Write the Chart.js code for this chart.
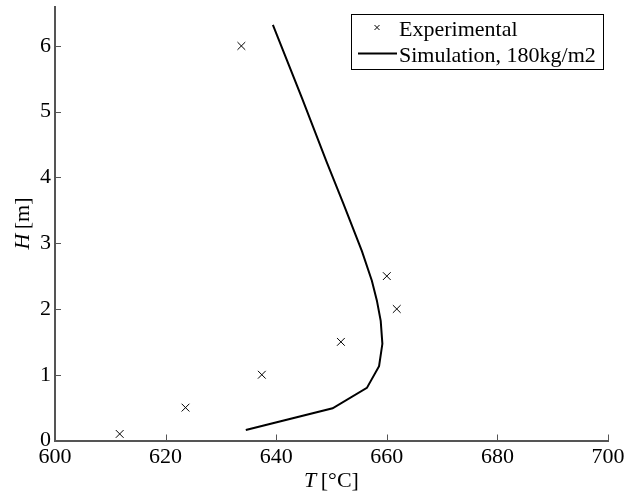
<!DOCTYPE html>
<html>
<head>
<meta charset="utf-8">
<script src="https://cdn.jsdelivr.net/npm/chart.js@4/dist/chart.umd.min.js"></script>
<style>
  html, body { margin: 0; padding: 0; background: #fff; }
  #wrap { width: 626px; height: 496px; }
</style>
</head>
<body>
<div id="wrap"><canvas id="myChart" width="626" height="496"></canvas></div>
<script>
// experimental measurements
var expT = [611.7, 623.6, 637.4, 651.7, 661.8, 660.0, 633.7];
var expH = [0.1, 0.5, 1.0, 1.5, 2.0, 2.5, 6.0];

// simulation profile, 180kg/m2
var simT = [634.5, 650.2, 656.4, 658.6, 659.2, 658.9, 658.2, 657.3, 655.5, 652.2, 649.1, 644.7, 639.4];
var simH = [0.16, 0.49, 0.80, 1.13, 1.47, 1.82, 2.13, 2.43, 2.88, 3.59, 4.24, 5.2, 6.32];

var xTicks = [600, 620, 640, 660, 680, 700];
var yTicks = [0, 1, 2, 3, 4, 5, 6];

var serif = '"Liberation Serif", "Times New Roman", serif';

function toPoints(xs, ys) {
  return xs.map(function (x, i) {
    return { x: x, y: ys[i] };
  });
}

// ticks drawn inward from the axis lines
var innerTicks = {
  id: "innerTicks",
  afterDraw: function (chart) {
    var ctx = chart.ctx;
    var xs = chart.scales.x;
    var ys = chart.scales.y;
    var a = chart.chartArea;
    ctx.save();
    ctx.strokeStyle = "#555";
    ctx.lineWidth = 1;
    xTicks.forEach(function (v) {
      var px = Math.round(xs.getPixelForValue(v)) + 0.5;
      ctx.beginPath();
      ctx.moveTo(px, a.bottom);
      ctx.lineTo(px, a.bottom - 6);
      ctx.stroke();
    });
    yTicks.forEach(function (v) {
      var py = Math.round(ys.getPixelForValue(v)) + 0.5;
      ctx.beginPath();
      ctx.moveTo(a.left, py);
      ctx.lineTo(a.left + 6, py);
      ctx.stroke();
    });
    ctx.restore();
  },
};

// axis titles with italic symbol
var axisTitles = {
  id: "axisTitles",
  afterDraw: function (chart) {
    var ctx = chart.ctx;
    var a = chart.chartArea;
    ctx.save();
    ctx.fillStyle = "#000";
    ctx.textBaseline = "alphabetic";

    function drawParts(sym, rest, cx, cy) {
      ctx.font = "italic 22px " + serif;
      var w1 = ctx.measureText(sym).width;
      ctx.font = "22px " + serif;
      var w2 = ctx.measureText(rest).width;
      var x0 = cx - (w1 + w2) / 2;
      ctx.font = "italic 22px " + serif;
      ctx.fillText(sym, x0, cy);
      ctx.font = "22px " + serif;
      ctx.fillText(rest, x0 + w1, cy);
    }

    drawParts("T", "\u2009[\u00b0C]", (a.left + a.right) / 2, 487);

    ctx.translate(29, (a.top + a.bottom) / 2);
    ctx.rotate(-Math.PI / 2);
    drawParts("H", "\u2009[m]", 0, 0);
    ctx.restore();
  },
};

// legend box in the upper right corner
var boxLegend = {
  id: "boxLegend",
  afterDraw: function (chart) {
    var ctx = chart.ctx;
    var a = chart.chartArea;
    var right = a.right - 5;
    var left = right - 252;
    var top = a.top + 7;
    var h = 55;
    ctx.save();
    ctx.fillStyle = "#fff";
    ctx.fillRect(left, top, right - left, h);
    ctx.strokeStyle = "#000";
    ctx.lineWidth = 1;
    ctx.strokeRect(Math.round(left) + 0.5, Math.round(top) + 0.5, right - left, h);

    // cross marker
    var mx = left + 26, my = top + 14;
    ctx.beginPath();
    ctx.moveTo(mx - 2.5, my - 2.5);
    ctx.lineTo(mx + 2.5, my + 2.5);
    ctx.moveTo(mx + 2.5, my - 2.5);
    ctx.lineTo(mx - 2.5, my + 2.5);
    ctx.stroke();

    // line sample
    ctx.lineWidth = 2;
    ctx.beginPath();
    ctx.moveTo(left + 7, top + 40);
    ctx.lineTo(left + 46, top + 40);
    ctx.stroke();

    ctx.fillStyle = "#000";
    ctx.font = "22px " + serif;
    ctx.textBaseline = "alphabetic";
    ctx.fillText("Experimental", left + 48, top + 22);
    ctx.fillText("Simulation, 180kg/m2", left + 48, top + 48);
    ctx.restore();
  },
};

var ctx = document.getElementById("myChart").getContext("2d");
var myChart = new Chart(ctx, {
  type: "scatter",
  data: {
    datasets: [
      {
        label: "Experimental",
        data: toPoints(expT, expH),
        pointStyle: "crossRot",
        pointRadius: 5.5,
        pointHoverRadius: 5.5,
        borderColor: "#000",
        backgroundColor: "#000",
        pointBorderWidth: 1,
        showLine: false,
      },
      {
        label: "Simulation, 180kg/m2",
        data: toPoints(simT, simH),
        showLine: true,
        pointRadius: 0,
        borderColor: "#000",
        borderWidth: 2,
        tension: 0,
        fill: false,
      },
    ],
  },
  options: {
    responsive: false,
    animation: false,
    events: [],
    layout: { padding: { top: 4, right: 18, left: 0, bottom: 0 } },
    plugins: {
      legend: { display: false },
      tooltip: { enabled: false },
    },
    scales: {
      x: {
        type: "linear",
        min: 600,
        max: 700,
        afterFit: function (s) {
          s.height = 55.5;
          s.paddingLeft = 0;
          s.paddingRight = 0;
        },
        afterBuildTicks: function (s) {
          s.ticks = xTicks.map(function (v) {
            return { value: v };
          });
        },
        grid: { display: true, drawOnChartArea: false, drawTicks: false },
        border: { display: true, color: "#555", width: 2 },
        ticks: {
          color: "#000",
          padding: 4,
          maxRotation: 0,
          font: { family: serif, size: 22 },
        },
      },
      y: {
        type: "linear",
        min: 0,
        max: 6.6,
        afterFit: function (s) {
          s.width = 55;
          s.paddingTop = 0;
          s.paddingBottom = 0;
        },
        afterBuildTicks: function (s) {
          s.ticks = yTicks.map(function (v) {
            return { value: v };
          });
        },
        grid: { display: true, drawOnChartArea: false, drawTicks: false },
        border: { display: true, color: "#555", width: 2 },
        ticks: {
          color: "#000",
          padding: 4,
          font: { family: serif, size: 22 },
        },
      },
    },
  },
  plugins: [innerTicks, axisTitles, boxLegend],
});
</script>
</body>
</html>
